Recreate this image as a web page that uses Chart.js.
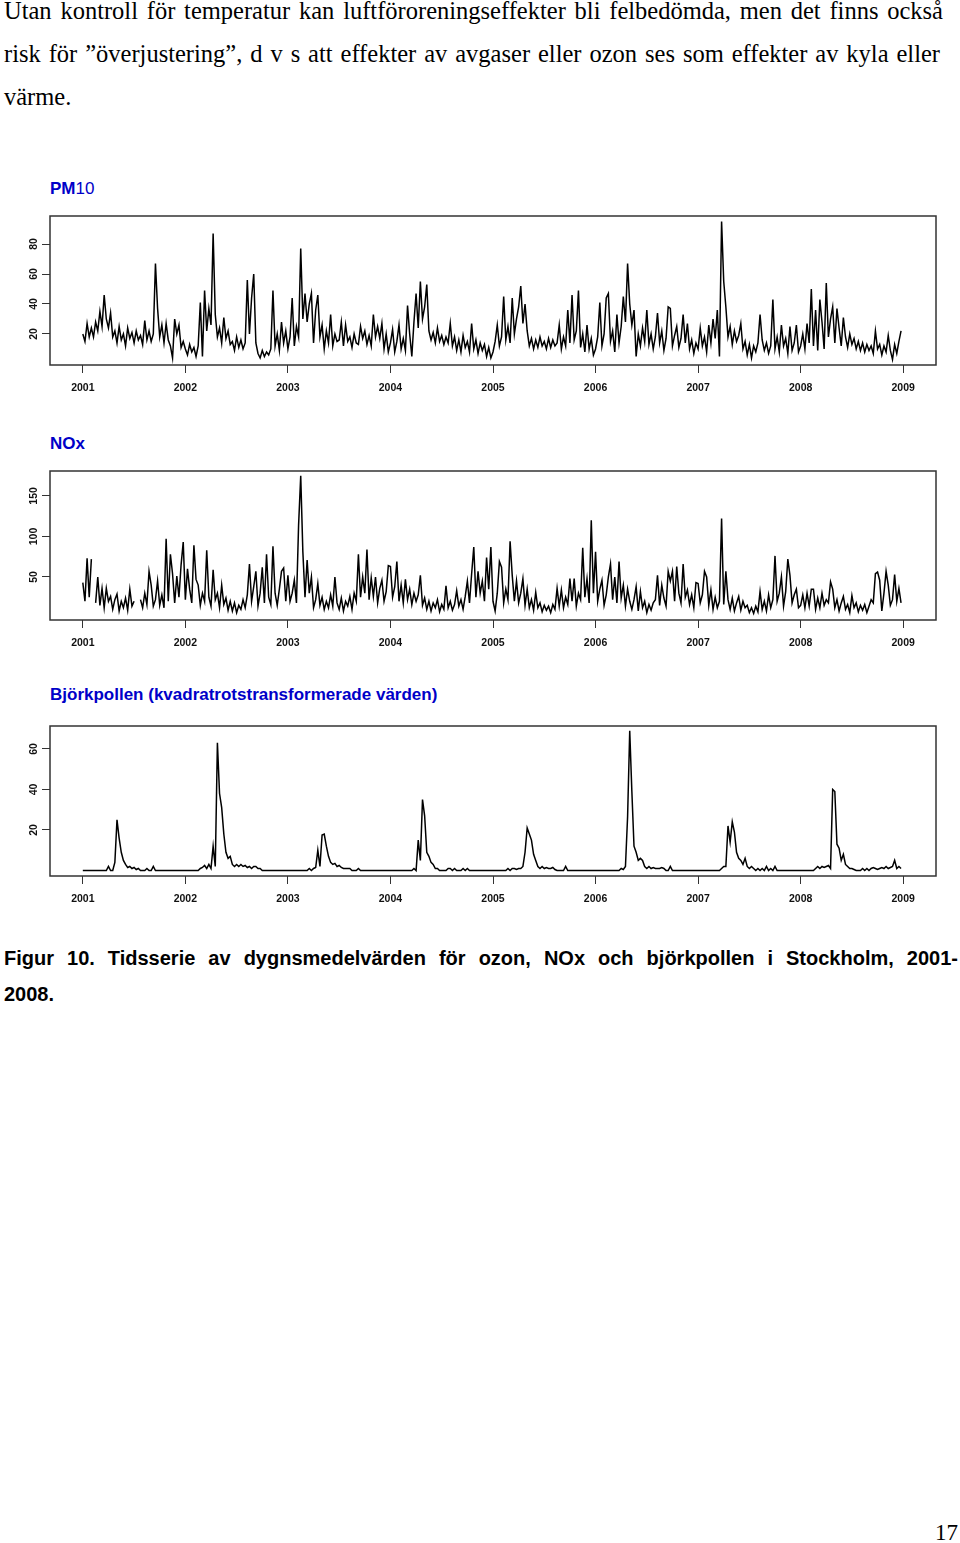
<!DOCTYPE html>
<html><head><meta charset="utf-8">
<script src="https://cdn.jsdelivr.net/npm/chart.js@4.4.1/dist/chart.umd.min.js"></script>
<style>
html,body{margin:0;padding:0;background:#fff;}
body{width:960px;height:1543px;position:relative;overflow:hidden;}
.t{position:absolute;left:4px;width:939px;font-family:"Liberation Serif","Times New Roman",serif;font-size:24.5px;line-height:24.5px;color:#000;white-space:nowrap;text-align:justify;text-align-last:justify;}
.h{position:absolute;left:50px;font-family:"Liberation Sans",Arial,sans-serif;font-size:17px;line-height:17px;font-weight:bold;color:#0000c8;white-space:nowrap;}
.c{position:absolute;left:4px;width:954px;font-family:"Liberation Sans",Arial,sans-serif;font-size:20px;line-height:20px;font-weight:bold;color:#000;white-space:nowrap;text-align:justify;text-align-last:justify;}
canvas{position:absolute;left:0;}
</style></head><body>
<div class="t" style="top:-1px">Utan kontroll för temperatur kan luftföroreningseffekter bli felbedömda, men det finns också</div>
<div class="t" style="top:42px;width:936px">risk för ”överjustering”, d v s att effekter av avgaser eller ozon ses som effekter av kyla eller</div>
<div class="t" style="top:85px;text-align:left;text-align-last:left">värme.</div>

<div class="h" style="top:180px">PM<span style="font-weight:normal">10</span></div>
<canvas id="c1" width="960" height="200" style="top:206px"></canvas>
<div class="h" style="top:435px">NOx</div>
<canvas id="c2" width="960" height="200" style="top:461px"></canvas>
<div class="h" style="top:686px">Björkpollen (kvadratrotstransformerade värden)</div>
<canvas id="c3" width="960" height="200" style="top:716px"></canvas>

<div class="c" style="top:948px">Figur 10. Tidsserie av dygnsmedelvärden för ozon, NOx och björkpollen i Stockholm, 2001-</div>
<div class="c" style="top:984px;text-align:left;text-align-last:left">2008.</div>
<div style="position:absolute;left:935px;top:1521px;font:23px/23px 'Liberation Serif','Times New Roman',serif;">17</div>

<script>
// ---- data (4 readings per month, 48 per year, 2001–2008) ----
const startYear = 2001;
const perYear = 48;
const years = [2001, 2002, 2003, 2004, 2005, 2006, 2007, 2008, 2009];
const pm10Ticks = [20, 40, 60, 80];
const noxTicks = [50, 100, 150];
const pollenTicks = [20, 40, 60];

const pm10 = [
  20,15,27,18,24,18,28,22,35,25,46,30,24,34,18,22,14,25,16,20,12,24,17,21,14,22,16,19,13,29,16,22,15,20,67,37,18,26,14,27,16,12,4,30,20,26,11,15,
  10,6,13,8,11,5,12,41,5,49,22,37,26,87,33,18,24,14,31,17,22,13,15,9,18,11,16,10,14,56,20,44,60,14,7,4,9,5,8,6,10,49,12,20,9,28,14,22,
  10,18,44,12,25,18,77,30,47,28,40,47,14,36,46,18,26,10,22,14,33,12,20,15,16,28,12,26,15,18,11,20,14,13,25,17,22,13,19,12,33,18,25,17,27,10,20,8,
  14,23,8,15,26,10,17,9,39,20,5,28,47,24,55,30,38,53,22,16,21,14,24,15,19,13,18,14,27,12,18,9,16,8,19,11,15,8,27,10,16,7,14,9,13,5,11,4,
  8,15,26,12,18,45,16,25,14,44,20,30,38,52,27,40,22,12,17,10,16,11,18,12,15,10,17,11,16,12,14,26,10,18,12,36,14,46,16,22,49,11,20,8,26,10,17,6,
  10,18,41,12,20,44,47,15,22,8,33,14,25,45,28,67,40,26,36,5,20,12,24,15,36,13,20,10,18,34,14,22,9,17,38,37,12,19,25,11,17,33,14,27,10,16,7,14,
  10,24,12,18,8,26,14,30,17,36,5,95,55,38,18,25,13,22,15,19,27,10,15,6,13,4,12,8,14,33,16,9,14,7,12,43,10,18,8,26,12,17,7,25,9,14,26,8,
  12,20,10,27,14,50,12,36,9,43,28,10,54,18,30,38,14,37,24,12,31,18,11,20,13,17,10,15,9,14,8,13,9,12,7,22,10,13,6,12,8,19,9,3,13,7,15,22
];

const nox = [
  43,20,73,25,72,null,18,50,15,36,12,36,20,26,10,22,29,8,20,12,24,9,35,14,20,null,null,22,12,30,16,57,40,14,22,45,15,28,12,97,20,78,54,18,51,25,65,93,
  22,60,35,18,89,47,40,15,30,20,83,25,14,59,22,30,12,40,16,24,9,20,8,18,6,15,10,22,12,28,66,20,38,57,14,30,62,18,78,25,16,88,30,15,35,57,61,20,
  52,20,30,46,18,114,175,81,25,71,30,50,12,22,42,15,25,10,20,12,28,14,50,18,10,24,8,20,14,26,10,30,20,78,25,50,30,84,22,49,26,50,18,36,46,20,32,64,
  63,25,38,69,20,40,18,47,22,35,16,30,20,28,52,15,24,10,20,8,18,12,22,7,16,10,39,12,20,9,16,33,14,22,10,26,45,18,54,87,25,57,30,45,20,74,35,87,
  20,8,30,69,62,18,35,22,94,52,20,45,18,30,48,15,35,12,22,9,31,12,18,7,15,9,14,6,16,10,36,14,34,12,25,16,48,20,48,14,30,22,86,25,48,18,120,30,
  81,20,35,46,15,28,50,66,22,50,18,69,24,40,14,35,20,10,22,38,8,32,12,20,6,16,9,18,22,52,15,40,24,14,57,45,57,20,63,30,18,66,25,34,16,28,12,43,
  42,18,28,57,50,15,34,10,25,12,20,122,16,57,22,10,24,8,18,26,9,20,12,15,6,12,5,14,7,32,10,20,8,28,12,22,76,20,30,50,14,32,72,52,18,28,35,12,
  15,28,12,30,14,35,35,10,24,12,30,15,22,18,44,35,12,22,8,18,26,10,16,6,27,12,18,7,15,9,16,6,14,22,18,54,56,46,8,30,57,40,15,22,53,20,36,18
];

const pollen = [
  0,0,0,0,0,0,0,0,0,0,0,0,2,0,0,4,25,16,9,5,3,1.5,2,1,1.5,0.5,1,0,0,0,1,0,0,2,0,0,0,0,0,0,0,0,0,0,0,0,0,0,
  0,0,0,0,0,0,0,1,1.5,2.5,1,3,1,12,2,63,38,31,18,9,6,7,3,2,3,2,3,2,2.5,1.5,2,1,2,2,1,1,0,0,0,0,0,0,0,0,0,0,0,0,
  0,0,0,0,0,0,0,0,0,0,1,0,1,1.5,10,2,17.5,18,12,7,4,3,3.5,2,2.5,1.5,1,1,1,1,0,0,0,1,0,0,0,0,0,0,0,0,0,0,0,0,0,0,
  0,0,0,0,0,0,0,0,0,0,0,1,0,15,5,35,27,9,7,4,3,1,1,0,0,0,0,1,1,0,1,0,0,0,1,0,1,0,0,0,0,0,0,0,0,0,0,0,
  0,0,0,0,0,0,0,1,0,1,1,0.5,1,1,2,9,21,18,15,8,5,2,1,2,1,1.5,1,1,1.5,0.5,0,0,0,0,2,0,0,0,0,0,0,0,0,0,0,0,0,0,
  0,0,0,0,0,0,0,0,0,0,0,0,1,0.5,2,26.5,69,39,12,9,5,6,5,2,1,2,1,1.5,1,1,1,1.5,1,0,0,2,0,0,0,0,0,0,0,0,0,0,0,0,
  0,0,0,0,0,0,0,0,0,0,0,1,2,2,22,14,24,19,9,6,5,3,6,2,1,2,1,0,1,0,1,0,2,0,1,0,2,0,0,0,0,0,0,0,0,0,0,0,
  0,0,0,0,0,0,0,1,2,1,2,1.5,2,2.5,1,40,39,13,11,5,8,3,2,1,1,0.5,0,0,0,1,0,1,0,1,1.5,1,0.5,1,1.5,1,2,1,1.5,2,5,1,2,1
];

// ---- chart construction ----
function toPoints(vals) {
  return vals.map((v, i) => ({ x: startYear + i / perYear, y: v }));
}

const boxPlugin = {
  id: 'box',
  afterDraw(chart) {
    const { ctx, chartArea: a } = chart;
    ctx.save();
    ctx.strokeStyle = '#333';
    ctx.lineWidth = 1.5;
    ctx.strokeRect(a.left, a.top, a.right - a.left, a.bottom - a.top);
    ctx.restore();
  }
};

const tickFont = { family: '"Liberation Sans", Arial, sans-serif', size: 10.5, weight: 'bold' };
const gridOpts = { display: true, drawOnChartArea: false, drawTicks: true, tickLength: 8, color: '#333', lineWidth: 1 };

function makeChart(id, vals, yMin, yMax, yTicks, yPad, xH) {
  new Chart(document.getElementById(id), {
    type: 'line',
    data: { datasets: [{ data: toPoints(vals), borderColor: '#000', borderWidth: 1.5, pointRadius: 0, tension: 0, spanGaps: false, fill: false }] },
    options: {
      responsive: false, animation: false, devicePixelRatio: 1,
      layout: { padding: { top: 10, right: 24, left: 0, bottom: 0 } },
      plugins: { legend: { display: false }, tooltip: { enabled: false } },
      scales: {
        x: {
          type: 'linear', min: 2000.68, max: 2009.32,
          afterBuildTicks: s => { s.ticks = years.map(v => ({ value: v })); },
          afterFit: s => { s.height = xH; },
          grid: gridOpts, border: { display: false },
          ticks: { autoSkip: false, minRotation: 0, maxRotation: 0, padding: 9, color: '#111', font: tickFont, callback: v => String(v) }
        },
        y: {
          type: 'linear', min: yMin, max: yMax,
          afterBuildTicks: s => { s.ticks = yTicks.map(v => ({ value: v })); },
          afterFit: s => { s.width = 50; },
          grid: gridOpts, border: { display: false },
          ticks: { autoSkip: false, minRotation: 90, maxRotation: 90, crossAlign: 'center', padding: yPad, color: '#111', font: tickFont, callback: v => String(v) }
        }
      }
    },
    plugins: [boxPlugin]
  });
}

makeChart('c1', pm10, -0.7, 98.7, pm10Ticks, 2, 41);
makeChart('c2', nox, -3.1, 180.8, noxTicks, -1, 41);
makeChart('c3', pollen, -2.7, 71.3, pollenTicks, 2, 40);
</script>
</body></html>
